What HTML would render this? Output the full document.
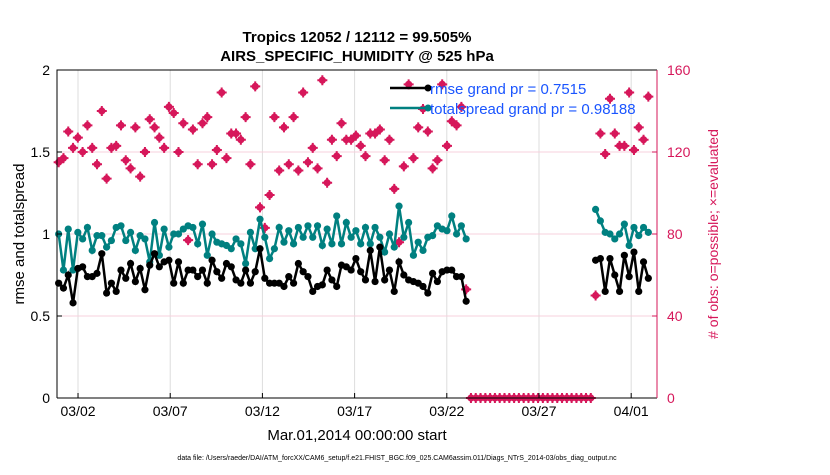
<!DOCTYPE html>
<html><head><meta charset="utf-8"><style>
body{margin:0;background:#fff;}
svg text{font-family:"Liberation Sans",Arial,sans-serif;}
</style></head><body>
<svg id="chart" width="830" height="470" xmlns="http://www.w3.org/2000/svg">
<rect width="830" height="470" fill="#fff"/>
<g id="grid"></g>
<g id="marks"></g>
<g id="axes"></g>
<text x="357" y="42" text-anchor="middle" font-size="15" font-weight="bold">Tropics 12052 / 12112 = 99.505%</text>
<text x="357" y="61" text-anchor="middle" font-size="15" font-weight="bold">AIRS_SPECIFIC_HUMIDITY @ 525 hPa</text>
<text transform="translate(24,234) rotate(-90)" text-anchor="middle" font-size="15">rmse and totalspread</text>
<text transform="translate(718,234) rotate(-90)" text-anchor="middle" font-size="14" fill="#d6175a"># of obs: o=possible; ×=evaluated</text>
<text x="357" y="440" text-anchor="middle" font-size="15">Mar.01,2014 00:00:00 start</text>
<text x="397" y="460" text-anchor="middle" font-size="7">data file: /Users/raeder/DAI/ATM_forcXX/CAM6_setup/f.e21.FHIST_BGC.f09_025.CAM6assim.011/Diags_NTrS_2014-03/obs_diag_output.nc</text>
<g>
<line x1="390" y1="88" x2="428" y2="88" stroke="#000" stroke-width="2.5"/>
<circle cx="428" cy="88" r="3.5" fill="#000"/>
<text x="430" y="94" font-size="15" fill="#1a55ff">rmse grand pr = 0.7515</text>
<line x1="390" y1="108" x2="428" y2="108" stroke="#008080" stroke-width="2.5"/>
<circle cx="428" cy="108" r="3.5" fill="#008080"/>
<text x="430" y="114" font-size="15" fill="#1a55ff">totalspread grand pr = 0.98188</text>
</g>
</svg>
<script>
const rmse1 = [0.70,0.67,0.75,0.58,0.79,0.80,0.74,0.74,0.76,0.88,0.64,0.70,0.65,0.78,0.73,0.82,0.71,0.79,0.66,0.81,0.88,0.80,0.83,0.84,0.70,0.83,0.70,0.78,0.78,0.74,0.78,0.70,0.84,0.77,0.73,0.82,0.80,0.72,0.70,0.78,0.70,0.77,0.91,0.73,
0.70,0.70,0.70,0.68,0.74,0.70,0.82,0.77,0.74,0.65,0.68,0.69,0.78,0.72,0.68,0.81,0.80,0.78,0.85,0.77,0.72,0.90,0.71,0.92,0.72,0.78,0.65,0.83,0.75,0.72,0.71,0.70,0.68,0.64,0.76,0.71,0.77,0.78,0.78,0.74,0.74,0.59];
const spread1 = [1.00,0.78,1.03,0.78,1.01,0.97,1.04,0.90,0.99,0.99,0.92,0.96,1.04,1.05,0.96,1.01,0.90,0.99,0.97,0.83,1.07,0.87,1.03,0.92,1.00,1.00,1.03,1.05,1.04,0.94,1.06,0.87,1.00,0.95,0.94,0.93,0.91,0.97,0.94,0.82,1.01,0.91,1.09,0.98,
0.85,0.91,1.04,0.95,1.02,0.94,1.04,0.98,1.05,0.98,1.05,0.93,1.03,0.94,1.11,0.94,1.07,0.98,1.02,0.94,1.04,0.94,1.04,0.98,0.89,1.00,0.92,1.17,0.98,1.07,0.87,0.95,0.90,0.98,0.99,1.05,1.03,1.02,1.11,1.00,1.05,0.97];
const count1 = [115,117,130,122,127,120,133,122,114,140,107,122,123,133,116,112,132,108,120,136,132,127,122,142,139,120,134,77,131,114,134,137,114,121,149,117,129,129,126,137,114,152,93,83,
99,137,111,132,114,137,111,149,115,122,112,155,105,126,118,134,126,126,128,123,118,129,129,131,116,126,102,76,113,153,117,132,141,130,112,116,153,123,135,133,142,53];
const gapCount = [0,0,0,0,0,0,0,0,0,0,0,0,0,0,0,0,0,0,0,0,0,0,0,0,0,0];
const rmse2 = [0.84,0.85,0.65,0.85,0.75,0.65,0.87,0.74,0.89,0.65,0.83,0.73];
const spread2 = [1.15,1.08,1.01,1.00,0.97,1.00,1.06,0.93,1.04,0.99,1.04,1.01];
const count2 = [50,129,119,146,129,123,123,149,121,132,126,147];
const xTickLabels = ["03/02","03/07","03/12","03/17","03/22","03/27","04/01"];
const xTickDays = [2,7,12,17,22,27,32];
const yLeftTicks = [0,0.5,1,1.5,2];
const yLeftLabels = ["0","0.5","1","1.5","2"];
const yRightTicks = [0,40,80,120,160];

const L=57,R=657,T=70,B=398;
const D0=0.86,D1=33.4;
const xs=d=>L+(d-D0)/(D1-D0)*(R-L);
const yl=v=>B-v/2*(B-T);
const yr=v=>B-v/160*(B-T);
const STEP=0.26, START=0.95;
const NS="http://www.w3.org/2000/svg";
function mk(tag,attrs,parent){const e=document.createElementNS(NS,tag);for(const k in attrs)e.setAttribute(k,attrs[k]);parent.appendChild(e);return e;}
const grid=document.getElementById('grid'),marks=document.getElementById('marks'),axes=document.getElementById('axes');
const dayOf=i=>START+i*STEP;

xTickDays.forEach((d,i)=>{
  const g=mk('line',{x1:xs(d),x2:xs(d),y1:T,y2:B,stroke:'#ddd','stroke-width':1},grid);
  
  
  const t=mk('text',{x:xs(d),y:B+18,'text-anchor':'middle','font-size':14},axes);
  t.textContent=xTickLabels[i];
  
  
  mk('line',{x1:xs(d),x2:xs(d),y1:B,y2:B-5,stroke:'#000'},axes);
});
yRightTicks.forEach(v=>{
  if(v>0&&v<160){const g=mk('line',{x1:L,x2:R,y1:yr(v),y2:yr(v),stroke:'#f7d0dc','stroke-width':1},grid);
  
  }
  const t=mk('text',{x:R+10,y:yr(v)+5,'font-size':14,fill:'#d6175a'},axes);
  t.textContent=String(v);
  
  
  mk('line',{x1:R,x2:R-5,y1:yr(v),y2:yr(v),stroke:'#d6175a'},axes);
});
yLeftTicks.forEach((v,i)=>{
  const t=mk('text',{x:L-7,y:yl(v)+5,'text-anchor':'end','font-size':14},axes);
  t.textContent=yLeftLabels[i];
  
  
  mk('line',{x1:L,x2:L+5,y1:yl(v),y2:yl(v),stroke:'#000'},axes);
});
mk('path',{d:`M${L},${B}V${T}H${R}`,fill:'none',stroke:'#000','stroke-width':1},axes);
mk('line',{x1:L,x2:R,y1:B,y2:B,stroke:'#000'},axes);
mk('line',{x1:R,x2:R,y1:T,y2:B,stroke:'#d6175a'},axes);

function redMark(x,y,name){
  const g=mk('g',{},marks);
  
  
  mk('circle',{cx:x,cy:y,r:3.6,fill:'#d6175a'},g);
  mk('path',{d:`M${x-5},${y}H${x+5}M${x},${y-5}V${y+5}`,stroke:'#d6175a','stroke-width':2},g);
}
function series(vals,off,color,name){
  const pts=vals.map((v,i)=>[xs(dayOf(off+i)),yl(v)]);
  const p=mk('polyline',{points:pts.map(p=>p.join(',')).join(' '),fill:'none',stroke:color,'stroke-width':2.5},marks);
  
  
  pts.forEach(q=>{const c=mk('circle',{cx:q[0],cy:q[1],r:3.6,fill:color},marks);
    
    });
}
const off2=count1.length+gapCount.length;
count1.forEach((v,i)=>redMark(xs(dayOf(i)),yr(v),'obs-count-point'));
gapCount.forEach((v,i)=>redMark(xs(dayOf(count1.length+i)),yr(v),'obs-count-zero-point'));
count2.forEach((v,i)=>redMark(xs(dayOf(off2+i)),yr(v),'obs-count-point'));
series(spread1,0,'#008080','totalspread');
series(rmse1,0,'#000','rmse');
series(spread2,off2,'#008080','totalspread');
series(rmse2,off2,'#000','rmse');
</script>
</body></html>
